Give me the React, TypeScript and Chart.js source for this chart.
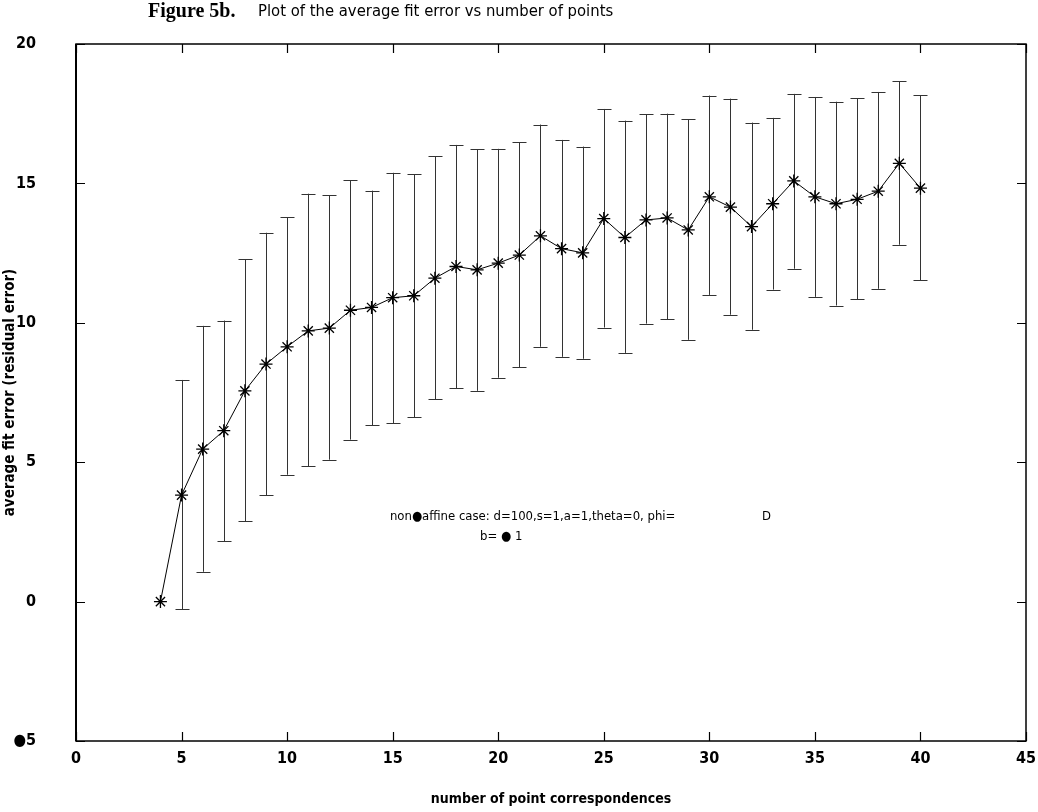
import { useEffect, useRef } from 'react';
import { Chart, registerables } from 'chart.js';

Chart.register(...registerables);

// ---- data ----
const nPoints = [4, 5, 6, 7, 8, 9, 10, 11, 12, 13, 14, 15, 16, 17, 18, 19, 20, 21, 22, 23, 24, 25, 26, 27, 28, 29, 30, 31, 32, 33, 34, 35, 36, 37, 38, 39, 40];
const meanError = [0, 3.82, 5.47, 6.13, 7.56, 8.52, 9.14, 9.71, 9.81, 10.45, 10.55, 10.9, 10.97, 11.6, 12.02, 11.9, 12.14, 12.43, 13.12, 12.66, 12.51, 13.74, 13.06, 13.69, 13.76, 13.33, 14.52, 14.15, 13.45, 14.27, 15.09, 14.52, 14.27, 14.43, 14.72, 15.72, 14.83];
const upperError = [0, 7.95, 9.89, 10.08, 12.28, 13.23, 13.78, 14.63, 14.58, 15.12, 14.74, 15.38, 15.32, 15.98, 16.38, 16.23, 16.24, 16.48, 17.11, 16.56, 16.32, 17.67, 17.25, 17.48, 17.5, 17.3, 18.15, 18.04, 17.18, 17.35, 18.21, 18.1, 17.93, 18.05, 18.28, 18.66, 18.16];
const lowerError = [0, -0.27, 1.07, 2.17, 2.88, 3.82, 4.55, 4.85, 5.09, 5.81, 6.33, 6.39, 6.61, 7.25, 7.66, 7.56, 8.03, 8.4, 9.14, 8.78, 8.71, 9.83, 8.92, 9.97, 10.12, 9.39, 11.0, 10.29, 9.75, 11.19, 11.94, 10.93, 10.62, 10.85, 11.22, 12.8, 11.53];
const xTickValues = [0, 5, 10, 15, 20, 25, 30, 35, 40, 45];
const yTickValues = [-5, 0, 5, 10, 15, 20];
const yTickLabels = ['●5', '0', '5', '10', '15', '20'];

const titleBold = 'Figure 5b.';
const titleText = 'Plot of the average fit error vs number of points';
const xTitle = 'number of point correspondences';
const yTitle = 'average fit error (residual error)';
const noteLine1 = 'non●affine case: d=100,s=1,a=1,theta=0, phi=';
const noteLine1b = 'D';
const noteLine2 = 'b= ● 1';

const COND = "'DejaVu Sans Condensed', 'Liberation Sans Narrow', sans-serif";

const framePlugin = {
  id: 'frameAndBars',
  beforeDatasetsDraw(chart: any) {
    const { ctx } = chart;
    const xs = chart.scales.x;
    const ys = chart.scales.y;
    ctx.save();
    ctx.strokeStyle = '#333';
    ctx.lineWidth = 1;
    for (let i = 0; i < nPoints.length; i++) {
      const hi = upperError[i];
      const lo = lowerError[i];
      if (hi === lo) continue;
      const px = Math.round(xs.getPixelForValue(nPoints[i])) + 0.5;
      const pTop = ys.getPixelForValue(hi);
      const pBot = ys.getPixelForValue(lo);
      ctx.beginPath();
      ctx.moveTo(px, pTop);
      ctx.lineTo(px, pBot);
      ctx.moveTo(px - 7, Math.round(pTop) + 0.5);
      ctx.lineTo(px + 7, Math.round(pTop) + 0.5);
      ctx.moveTo(px - 7, Math.round(pBot) + 0.5);
      ctx.lineTo(px + 7, Math.round(pBot) + 0.5);
      ctx.stroke();
    }
    ctx.restore();
  },
  afterDraw(chart: any) {
    const { ctx, chartArea } = chart;
    const xs = chart.scales.x;
    const ys = chart.scales.y;
    const { left, right, top, bottom } = chartArea;
    ctx.save();
    ctx.strokeStyle = '#000';
    ctx.lineWidth = 1.5;
    ctx.strokeRect(left, top, right - left, bottom - top);
    ctx.lineWidth = 2;
    ctx.beginPath();
    ctx.moveTo(left, top);
    ctx.lineTo(left, bottom);
    ctx.stroke();
    ctx.lineWidth = 1.2;
    ctx.beginPath();
    const tl = 9;
    for (const v of xTickValues) {
      const px = Math.round(xs.getPixelForValue(v)) + 0.5;
      ctx.moveTo(px, bottom);
      ctx.lineTo(px, bottom - tl);
      ctx.moveTo(px, top);
      ctx.lineTo(px, top + tl);
    }
    for (const v of yTickValues) {
      const py = Math.round(ys.getPixelForValue(v)) + 0.5;
      ctx.moveTo(left, py);
      ctx.lineTo(left + tl, py);
      ctx.moveTo(right, py);
      ctx.lineTo(right - tl, py);
    }
    ctx.stroke();

    // title
    ctx.fillStyle = '#000';
    ctx.textBaseline = 'middle';
    ctx.textAlign = 'left';
    ctx.font = "bold 20px 'Liberation Serif', serif";
    ctx.fillText(titleBold, 148, 12);
    ctx.font = `16.5px ${COND}`;
    ctx.fillText(titleText, 258, 12);

    // annotation
    ctx.font = `13px ${COND}`;
    ctx.fillText(noteLine1, xs.getPixelForValue(14.87), ys.getPixelForValue(3.04));
    ctx.fillText(noteLine1b, xs.getPixelForValue(32.5), ys.getPixelForValue(3.04));
    ctx.fillText(noteLine2, xs.getPixelForValue(19.14), ys.getPixelForValue(2.32));
    ctx.restore();
  },
};

export default function App() {
  const ref = useRef<HTMLCanvasElement | null>(null);
  useEffect(() => {
    if (!ref.current) return;
    const chart = new Chart(ref.current, {
      type: 'line',
      data: {
        datasets: [
          {
            data: nPoints.map((x, i) => ({ x, y: meanError[i] })),
            borderColor: '#000',
            borderWidth: 1,
            pointStyle: 'star',
            pointRadius: 6.5,
            pointBorderWidth: 1.3,
            pointBorderColor: '#000',
            pointBackgroundColor: '#000',
            tension: 0,
            fill: false,
          },
        ],
      },
      options: {
        responsive: false,
        animation: false,
        layout: { padding: { left: 0, right: 12, top: 44, bottom: 0 } },
        plugins: { legend: { display: false }, tooltip: { enabled: false }, title: { display: false } },
        scales: {
          x: {
            type: 'linear',
            min: 0,
            max: 45,
            afterFit: (s: any) => { s.height = 71; s.paddingLeft = 0; s.paddingRight = 0; },
            afterBuildTicks: (s: any) => { s.ticks = xTickValues.map((v) => ({ value: v })); },
            grid: { display: false, drawTicks: false },
            border: { display: false },
            ticks: { padding: 8, color: '#000', font: { family: COND, size: 16, weight: 'bold' }, maxRotation: 0 },
            title: { display: true, text: xTitle, color: '#000', padding: { top: 0, bottom: 4 }, font: { family: COND, size: 14, weight: 'bold' } },
          },
          y: {
            type: 'linear',
            min: -5,
            max: 20,
            afterFit: (s: any) => { s.width = 76; s.paddingTop = 0; s.paddingBottom = 0; },
            afterBuildTicks: (s: any) => { s.ticks = yTickValues.map((v) => ({ value: v })); },
            grid: { display: false, drawTicks: false },
            border: { display: false },
            ticks: {
              padding: 40,
              color: '#000',
              font: { family: COND, size: 16, weight: 'bold' },
              callback: (v: any) => {
                const i = yTickValues.indexOf(Number(v));
                return i >= 0 ? yTickLabels[i] : '';
              },
            },
            title: { display: true, text: yTitle, color: '#000', padding: { top: 1, bottom: 0 }, font: { family: COND, size: 15, weight: 'bold' } },
          },
        },
      },
      plugins: [framePlugin],
    });
    return () => chart.destroy();
  }, []);
  return (
    <div style={{ position: 'absolute', left: 0, top: 0, width: 1038, height: 812, background: '#fff' }}>
      <canvas ref={ref} width={1038} height={812} />
    </div>
  );
}
